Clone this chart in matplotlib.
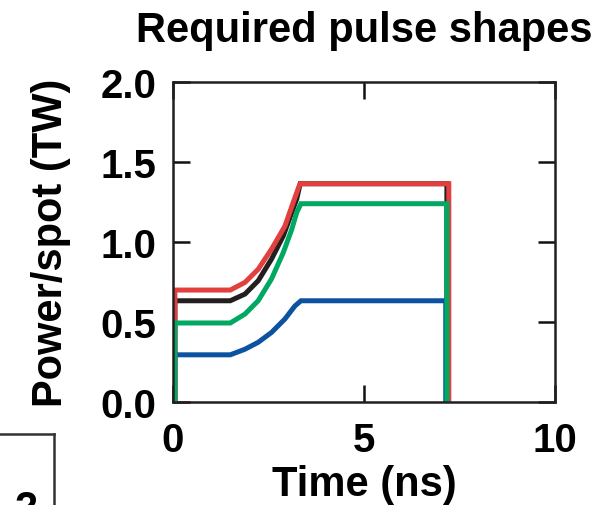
import matplotlib
matplotlib.use("Agg")
import matplotlib.pyplot as plt
from matplotlib.lines import Line2D

plt.rcParams["font.family"] = ["Liberation Sans", "DejaVu Sans"]
plt.rcParams["font.weight"] = "bold"

# values (time in ns, power per spot in TW)
red_t = [0.05, 0.05, 1.5, 1.885, 2.23, 2.58, 2.93, 3.15, 3.30, 3.33, 7.22, 7.22]
red_p = [0.0, 0.70, 0.70, 0.748, 0.83, 0.956, 1.10, 1.25, 1.35, 1.365, 1.365, 0.0]

black_t = [0.05, 0.05, 1.5, 1.885, 2.23, 2.58, 2.89, 3.11, 3.24, 3.33, 7.17, 7.17]
black_p = [0.0, 0.633, 0.633, 0.675, 0.758, 0.894, 1.04, 1.186, 1.27, 1.365, 1.365, 0.0]

green_t = [0.05, 0.05, 1.5, 1.885, 2.23, 2.58, 2.89, 3.11, 3.24, 3.35, 7.17, 7.17]
green_p = [0.0, 0.494, 0.494, 0.55, 0.633, 0.77, 0.936, 1.08, 1.186, 1.24, 1.24, 0.0]

blue_t = [0.05, 0.05, 1.5, 1.885, 2.23, 2.58, 2.93, 3.19, 3.35, 7.14, 7.14]
blue_p = [0.0, 0.295, 0.295, 0.33, 0.373, 0.435, 0.519, 0.60, 0.633, 0.633, 0.0]

x_ticks = [0, 5, 10]
y_ticks = [0.0, 0.5, 1.0, 1.5, 2.0]

fig = plt.figure(figsize=(6.0, 5.06), dpi=100)
ax = fig.add_axes([0.2883, 0.2036, 0.6367, 0.632])

style = dict(lw=3.6, solid_joinstyle="miter", solid_capstyle="butt")
ax.plot(black_t, black_p, color="#231f20", **style)
ax.plot(blue_t, blue_p, color="#0b52a1", **style)
ax.plot(red_t, red_p, color="#e2403f", **style)
ax.plot(green_t, green_p, color="#00a862", **style)

ax.set_xlim(0, 10)
ax.set_ylim(0, 2.0)
ax.set_xticks(x_ticks)
ax.set_xticklabels([str(v) for v in x_ticks])
ax.set_yticks(y_ticks)
ax.set_yticklabels([f"{v:.1f}" for v in y_ticks])

for sp in ax.spines.values():
    sp.set_linewidth(1.8)
    sp.set_color("#231f20")

ax.tick_params(axis="both", direction="in", length=12, width=1.8,
               top=True, right=True, labelsize=29, pad=12, color="#111111")
ax.tick_params(axis="x", pad=14)

ax.set_xlabel("Time (ns)", fontsize=30, fontweight="bold", labelpad=3)
ax.set_ylabel("Power/spot (TW)", fontsize=30, fontweight="bold", labelpad=21)
ax.set_title("Required pulse shapes", fontsize=30, fontweight="bold", pad=30)

# partial neighbouring panel in the lower-left corner
fig.add_artist(Line2D([0, 54 / 600], [1 - 435 / 506, 1 - 435 / 506],
                      transform=fig.transFigure, color="#333333", lw=1.8))
fig.add_artist(Line2D([54 / 600, 54 / 600], [1 - 435 / 506, 0],
                      transform=fig.transFigure, color="#333333", lw=1.8))
fig.text(0.002, -0.03, "-2", fontsize=30, fontweight="bold", ha="left", va="baseline")

fig.savefig("out.png", dpi=100)
plt.close(fig)
